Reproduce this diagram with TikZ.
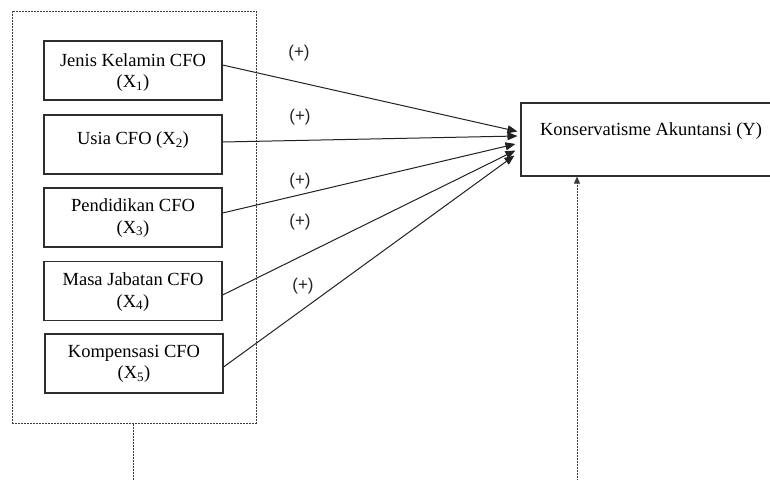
\documentclass[tikz,border=0pt]{standalone}
\usepackage{fontspec}
\setmainfont{Liberation Serif}
\newfontfamily\plusfont{Liberation Sans}
\usetikzlibrary{arrows.meta}
\definecolor{boxline}{HTML}{2E2E2E}
\definecolor{arrline}{HTML}{222222}
\definecolor{dashline}{HTML}{3C3C3C}
\begin{document}
\begin{tikzpicture}[x=1pt,y=-1pt,
  varbox/.style={draw=boxline,line width=1.1pt,minimum width=178pt,minimum height=59pt,inner sep=0pt,fill=none},
  vartext/.style={align=center,inner sep=0pt,font=\fontsize{18.5}{21.5}\selectfont,text=black},
  plus/.style={inner sep=0pt,font=\plusfont\fontsize{17}{20}\selectfont,text=black!85},
  arr/.style={draw=arrline,line width=1pt,-{Triangle[length=10pt,width=8pt]}},
  dashbox/.style={draw=dashline,line width=1pt,dash pattern=on 2pt off 1pt},
  dasharr/.style={draw=dashline,line width=1pt,dash pattern=on 2pt off 1pt,-{Triangle[length=7pt,width=6pt]}}
]
\useasboundingbox (0,0) rectangle (770,479);
\fill[white] (0,0) rectangle (770,479);

% outer dashed group
\node[dashbox,minimum width=244pt,minimum height=412pt,inner sep=0pt] (outer) at (134,217) {};

% independent variable boxes
\node[varbox] (b1) at (133,70.5) {};
\node[vartext] (t1) at (133,72.5) {Jenis Kelamin CFO\\(X\textsubscript{1})};
\node[varbox] (b2) at (133,144.5) {};
\node[vartext] (t2) at (133,140) {Usia CFO (X\textsubscript{2})};
\node[varbox] (b3) at (133,217.5) {};
\node[vartext] (t3) at (133,218) {Pendidikan CFO\\(X\textsubscript{3})};
\node[varbox] (b4) at (133,291) {};
\node[vartext] (t4) at (133,292) {Masa Jabatan CFO\\(X\textsubscript{4})};
\node[varbox] (b5) at (134,363.5) {};
\node[vartext] (t5) at (134,364) {Kompensasi CFO\\(X\textsubscript{5})};

% dependent variable box
\node[varbox,minimum width=260pt,minimum height=73pt] (Y) at (651,139.5) {};
\node[vartext] (ty) at (651,131) {Konservatisme Akuntansi (Y)};

% arrows
\draw[arr] ([yshift=5.5pt]b1.east) -- ([yshift=8pt,xshift=-3pt]Y.west);
\draw[arr] ([yshift=2.5pt]b2.east) -- ([yshift=3.5pt,xshift=-3pt]Y.west);
\draw[arr] ([yshift=4.5pt]b3.east) -- ([yshift=-4.5pt,xshift=-5pt]Y.west);
\draw[arr] ([yshift=-4pt]b4.east) -- ([yshift=-11pt,xshift=-5pt]Y.west);
\draw[arr] ([yshift=-3.5pt]b5.east) -- ([yshift=-16pt,xshift=-6pt]Y.west);

% labels
\node[plus] (p1) at (299,53) {(+)};
\node[plus] (p2) at (300,117) {(+)};
\node[plus] (p3) at (300,181) {(+)};
\node[plus] (p4) at (300,222) {(+)};
\node[plus] (p5) at (303,286) {(+)};

% dashed connectors
\coordinate (c1) at (133,481);
\coordinate (c2) at (577,481);
\draw[dashbox] (c1 |- outer.south) -- (c1);
\draw[dasharr] (c2) -- (c2 |- Y.south);
\end{tikzpicture}
\end{document}
